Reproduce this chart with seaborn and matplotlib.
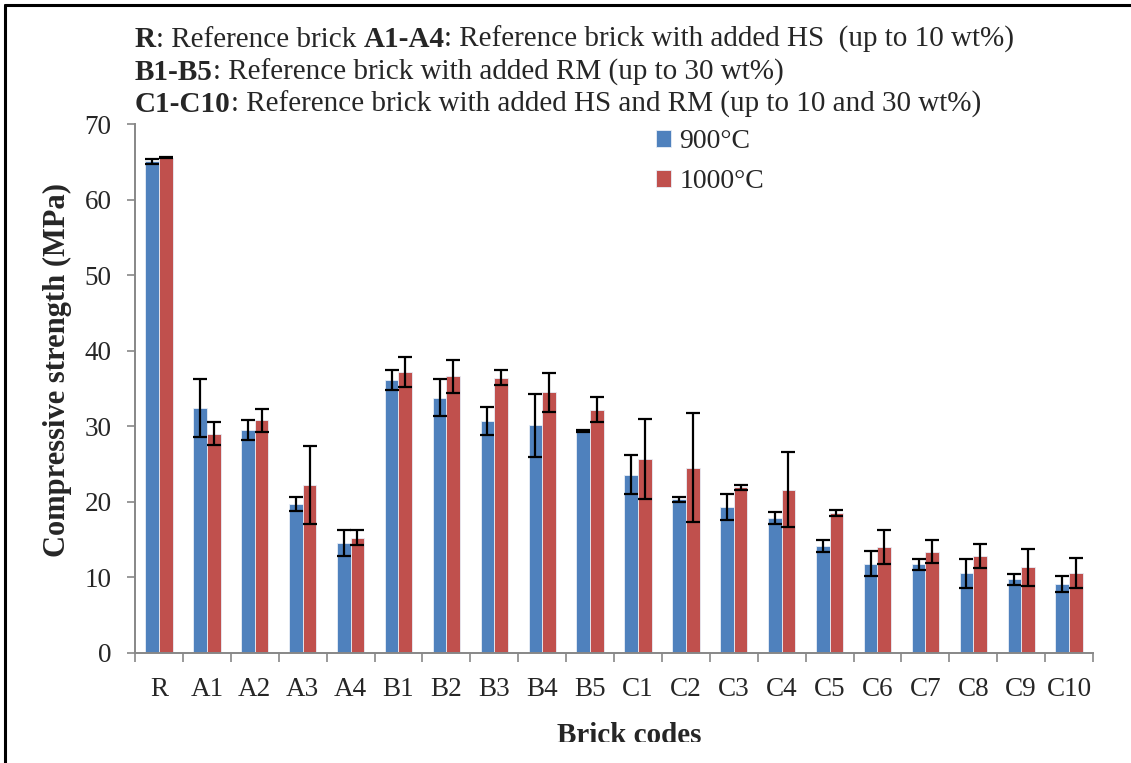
import numpy as np
import pandas as pd
import seaborn as sns
import matplotlib.pyplot as plt
from matplotlib.lines import Line2D
from matplotlib.patches import Rectangle

# data
codes = ['R', 'A1', 'A2', 'A3', 'A4', 'B1', 'B2', 'B3', 'B4', 'B5',
         'C1', 'C2', 'C3', 'C4', 'C5', 'C6', 'C7', 'C8', 'C9', 'C10']
temps = ['900°C', '1000°C']
s900 = [65.1, 32.4, 29.5, 19.7, 14.5, 36.1, 33.8, 30.7, 30.1, 29.4,
        23.6, 20.3, 19.3, 17.8, 14.1, 11.8, 11.7, 10.5, 9.7, 9.05]
e900 = [0.3, 3.8, 1.35, 0.9, 1.7, 1.35, 2.5, 1.9, 4.2, 0.15,
        2.6, 0.3, 1.7, 0.8, 0.8, 1.7, 0.75, 1.9, 0.7, 1.05]
s1000 = [65.6, 29.0, 30.8, 22.2, 15.2, 37.2, 36.6, 36.4, 34.5, 32.2,
         25.7, 24.5, 21.9, 21.6, 18.5, 14.0, 13.4, 12.8, 11.3, 10.55]
e1000 = [0.1, 1.5, 1.5, 5.2, 1.0, 2.0, 2.2, 1.0, 2.6, 1.7,
         5.3, 7.2, 0.3, 5.0, 0.4, 2.2, 1.5, 1.6, 2.45, 2.0]

header = [
    [('R', 'bold'), (': Reference brick ', 'normal'), ('A1-A4', 'bold'),
     (': Reference brick with added HS  (up to 10 wt%)', 'normal')],
    [('B1-B5', 'bold'), (': Reference brick with added RM (up to 30 wt%)', 'normal')],
    [('C1-C10', 'bold'),
     (': Reference brick with added HS and RM (up to 10 and 30 wt%)', 'normal')],
]

df = pd.DataFrame({
    'code': codes * 2,
    'strength': s900 + s1000,
    'temp': [temps[0]] * len(codes) + [temps[1]] * len(codes),
})
errs = [e900, e1000]

sns.set_style('white')
plt.rcParams['font.family'] = ['Liberation Serif', 'DejaVu Sans']

fig = plt.figure(figsize=(11.31, 7.63), dpi=100)
ax = fig.add_axes([0.1194, 0.1446, 0.847, 0.6925])

palette = {'900°C': '#4F81BD', '1000°C': '#C0504D'}
sns.barplot(data=df, x='code', y='strength', hue='temp', order=codes,
            hue_order=temps, palette=palette, width=0.57, errorbar=None,
            edgecolor='#e8eef7', linewidth=0.6, saturation=1, ax=ax)

for cont, err in zip(ax.containers, errs):
    xs = [b.get_x() + b.get_width() / 2 for b in cont]
    ys = [b.get_height() for b in cont]
    ax.errorbar(xs, ys, yerr=err, fmt='none', ecolor='black',
                elinewidth=1.6, capsize=4.8, capthick=1.6, zorder=5)

gray = '#878787'
ax.set_ylim(0, 70)
ax.set_xlim(-0.5, len(codes) - 0.5)
ax.set_yticks(range(0, 71, 10))
for s in ['top', 'right']:
    ax.spines[s].set_visible(False)
for s in ['left', 'bottom']:
    ax.spines[s].set_color(gray)
    ax.spines[s].set_linewidth(1.4)
ax.tick_params(axis='y', which='major', left=True, length=6, width=1.2,
               color=gray, labelsize=19.5, pad=11)
ax.tick_params(axis='x', which='major', bottom=False, labelsize=19.5, pad=14)
ax.set_xticks(np.arange(-0.5, len(codes)), minor=True)
ax.tick_params(axis='x', which='minor', bottom=True, length=6.5, width=1.2,
               color=gray)
ax.set_xlabel('')
ax.set_ylabel('Compressive strength (MPa)', fontsize=22, fontweight='bold')
ax.yaxis.set_label_coords(-0.066, 0.535)

handles, labels = ax.get_legend_handles_labels()
ax.legend(handles, labels, loc='center left', bbox_to_anchor=(0.58, 0.788),
          bbox_transform=fig.transFigure, frameon=False, fontsize=20,
          handlelength=0.55, handleheight=0.55, handletextpad=0.3,
          labelspacing=0.55, borderpad=0, borderaxespad=0)

# header lines, bold and regular runs chained one after the other
line_y = [1 - 53 / 763, 1 - 86 / 763, 1 - 118 / 763]
for parts, y in zip(header, line_y):
    prev = None
    for txt, w in parts:
        if prev is None:
            prev = fig.text(135 / 1131, y, txt, fontsize=21, fontweight=w,
                            va='bottom', ha='left')
        else:
            prev = ax.annotate(txt, xy=(1, 0), xycoords=prev, fontsize=21,
                               fontweight=w, va='bottom', ha='left',
                               annotation_clip=False)

# x axis title, cut off at the bottom like in the source image
fig.text(629 / 1131, 1 - 722 / 763, 'Brick codes', fontsize=21,
         fontweight='bold', ha='center', va='top')
fig.add_artist(Rectangle((0.3, 0), 0.5, (763 - 742) / 763, transform=fig.transFigure,
                         facecolor='white', edgecolor='none', zorder=10))

# black frame on the left and top
fig.add_artist(Line2D([5 / 1131, 5 / 1131], [0, 1 - 5 / 763], transform=fig.transFigure,
                      color='black', lw=2.2))
fig.add_artist(Line2D([5 / 1131, 1], [1 - 5 / 763, 1 - 5 / 763], transform=fig.transFigure,
                      color='black', lw=2.2))

fig.savefig('out.png', dpi=100)
